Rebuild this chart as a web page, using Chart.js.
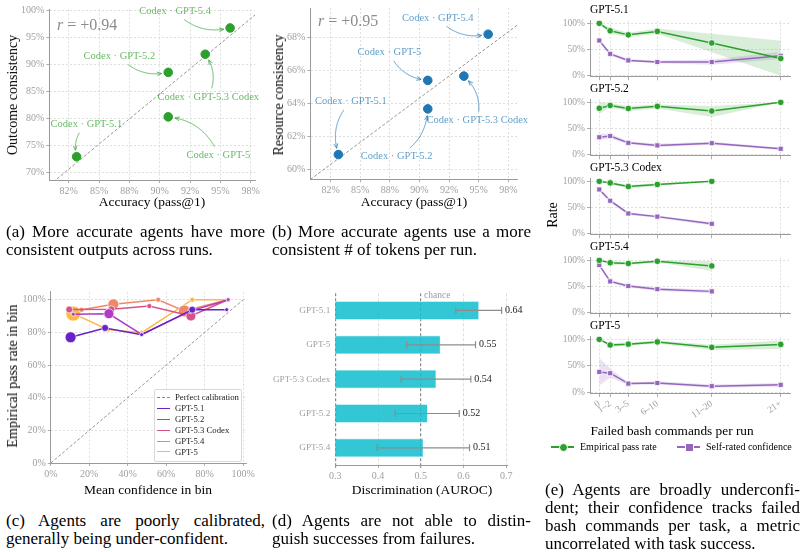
<!DOCTYPE html>
<html>
<head>
<meta charset="utf-8">
<title>Agent consistency and calibration</title>
<script src="https://cdn.jsdelivr.net/npm/chart.js@4.4.1/dist/chart.umd.min.js"></script>
<style>
  html, body { margin: 0; padding: 0; background: #fff; }
  body { position: relative; width: 807px; height: 552px; overflow: hidden; font-family: "Liberation Serif", "DejaVu Serif", serif; color: #000; }
  canvas { position: absolute; }
  .txt { position: absolute; white-space: nowrap; line-height: 1; }
  .ytitle { transform: translate(-50%, -50%) rotate(-90deg); font-size: 14px; }
  .xtitle { transform: translate(-50%, -50%); font-size: 13.5px; }
  .rval { font-size: 16px; color: #8c8c8c; }
  .cap { position: absolute; font-size: 17px; line-height: 18px; height: 18px; white-space: nowrap; }
  .cap.j { white-space: normal; text-align: justify; text-align-last: justify; overflow: hidden; }
  .legbox { position: absolute; border: 1px solid #d8d8d8; background: rgba(255,255,255,0.9); border-radius: 2px; }
  .legrow { position: absolute; font-size: 8.7px; color: #222; white-space: nowrap; line-height: 1; }
  .seg { position: absolute; }
</style>
</head>
<body>
<script>
const SERIF = '"Liberation Serif", "DejaVu Serif", serif';

// (a), (b) consistency vs accuracy
const AGENTS = ['Codex · GPT-5.1', 'Codex · GPT-5.2', 'Codex · GPT-5.3 Codex', 'Codex · GPT-5.4', 'Codex · GPT-5'];
const ACCURACY = [83.15, 90.7, 93.75, 95.8, 90.7];
const OUTCOME_CONSISTENCY = [72.95, 88.5, 91.85, 96.7, 80.3];
const RESOURCE_CONSISTENCY = [60.9, 63.67, 65.66, 68.2, 65.4];
const ACC_TICKS = [82.5, 85, 87.5, 90, 92.5, 95, 97.5];
const ACC_TICK_LABELS = ['82%', '85%', '88%', '90%', '92%', '95%', '98%'];
const OUTCOME_TICKS = [70, 75, 80, 85, 90, 95, 100];
const RESOURCE_TICKS = [60, 62, 64, 66, 68];

// (c) calibration curves
const CAL_MODELS = ['GPT-5.1', 'GPT-5.2', 'GPT-5.3 Codex', 'GPT-5.4', 'GPT-5'];
const CAL_CONF = [
  [10.3, 28.2, 47.2, 73.5, 91.4],
  [11.7, 30.2, 47.2, 72.5, 92.2],
  [9.6, 31.5, 51.2, 72.8, 92.0],
  [16.0, 32.5, 55.8, 69.4, 92.0],
  [11.7, 29.6, 47.2, 73.5, 92.2]
];
const CAL_PASS = [
  [77.0, 82.7, 78.6, 93.9, 93.9],
  [91.1, 91.4, 78.8, 93.0, 100],
  [94.0, 94.1, 96.1, 90.0, 100],
  [93.8, 97.2, 100, 93.1, 100],
  [91.5, 81.8, 79.8, 100, 100]
];
const CAL_BIN_N = [
  [47, 19, 6, 19, 6],
  [6, 39, 6, 10, 6],
  [19, 19, 10, 39, 6],
  [10, 47, 10, 56, 10],
  [88, 10, 10, 10, 6]
];
const PCT_TICKS = [0, 20, 40, 60, 80, 100];
const PERFECT = [0, 100];

// (d) discrimination
const AUROC_MODELS = ['GPT-5.1', 'GPT-5', 'GPT-5.3 Codex', 'GPT-5.2', 'GPT-5.4'];
const AUROC = [0.636, 0.546, 0.536, 0.516, 0.506];
const AUROC_LO = [0.582, 0.467, 0.454, 0.440, 0.398];
const AUROC_HI = [0.689, 0.628, 0.617, 0.590, 0.614];
const AUROC_TICKS = [0.3, 0.4, 0.5, 0.6, 0.7];
const CHANCE = 0.5;

// (e) rates vs failed bash commands
const FAIL_BINS = ['0', '1–2', '3–5', '6–10', '11–20', '21+'];
const FAIL_BIN_POS = [0, 1.5, 4, 8, 15.5, 25];
const E_MODELS = ['GPT-5.1', 'GPT-5.2', 'GPT-5.3 Codex', 'GPT-5.4', 'GPT-5'];
const PASS_RATE = [
  [100, 85.7, 78.0, 84.6, 62.5, 33.0],
  [88.7, 94.0, 88.2, 92.3, 83.4, 100],
  [100, 97.0, 90.0, 94.0, 100, null],
  [100, 95.3, 94.0, 98.2, 89.3, null],
  [100, 89.3, 91.0, 95.2, 85.0, 90.5]
];
const PASS_LO = [
  [100, 80, 74, 80, 45, 0],
  [78, 90, 83, 88, 72, 100],
  [100, 94, 87, 91, 100, null],
  [100, 92, 91, 96, 80, null],
  [100, 86, 88, 92, 80, 82]
];
const PASS_HI = [
  [100, 92, 82, 90, 80, 67],
  [100, 98, 93, 96, 93, 100],
  [100, 99, 93, 97, 100, null],
  [100, 98, 97, 100, 98, null],
  [100, 93, 94, 98, 90, 98]
];
const CONFIDENCE = [
  [67.3, 41.8, 29.3, 26.2, 26.2, 38.2],
  [33.4, 35.7, 22.7, 17.9, 22.1, 11.4],
  [84.5, 63.0, 38.7, 32.7, 19.0, null],
  [91.0, 59.8, 50.9, 45.0, 40.8, null],
  [38.7, 36.3, 16.7, 17.9, 11.9, 14.3]
];
const CONF_LO = [
  [65, 38, 27, 24, 21, 32],
  [28, 31, 20, 15, 19, 9],
  [82, 60, 36, 30, 16, null],
  [88, 57, 48, 42, 37, null],
  [13, 28, 14, 15, 9, 11]
];
const CONF_HI = [
  [70, 45, 32, 29, 31, 46],
  [40, 40, 26, 21, 25, 14],
  [87, 66, 41, 35, 22, null],
  [94, 63, 54, 48, 44, null],
  [65, 45, 19, 21, 15, 18]
];

// ---------- helpers ----------
const GREEN = '#2ca02c', BLUE = '#1f77b4', PURPLE = '#9467bd';
const CAL_COLORS = ['#6a22c8', '#b03bc6', '#d6528a', '#f08868', '#fdb944'];
const GRID = { color: '#d6d6d6', lineWidth: 0.8, tickLength: 3, tickColor: '#9a9a9a' };
const BORDER = { color: '#9a9a9a', width: 1, dash: [2, 2] };
const tickFont = size => ({ family: SERIF, size });

function addCanvas(box) {
  const c = document.createElement('canvas');
  c.width = box.width; c.height = box.height;
  c.style.left = box.left + 'px'; c.style.top = box.top + 'px';
  document.body.appendChild(c);
  return c;
}

function addText(html, cls, left, top, extra) {
  const d = document.createElement('div');
  d.className = cls;
  d.innerHTML = html;
  d.style.left = left + 'px'; d.style.top = top + 'px';
  if (extra) Object.assign(d.style, extra);
  document.body.appendChild(d);
  return d;
}

// make the plot area land at fixed page coordinates
function fixedLayout(box, area) {
  return {
    padding: { top: area.top - box.top, right: box.left + box.width - area.right, left: 0, bottom: 0 },
    yWidth: area.left - box.left,
    xHeight: box.top + box.height - area.bottom
  };
}

function setTicks(values) {
  return s => { s.ticks = values.map(value => ({ value })); };
}

function fitLine(xs, ys, x0, x1) {
  const n = xs.length;
  const mx = xs.reduce((a, b) => a + b, 0) / n;
  const my = ys.reduce((a, b) => a + b, 0) / n;
  let sxy = 0, sxx = 0;
  xs.forEach((x, i) => { sxy += (x - mx) * (ys[i] - my); sxx += (x - mx) * (x - mx); });
  const b = sxy / sxx;
  return [{ x: x0, y: my + b * (x0 - mx) }, { x: x1, y: my + b * (x1 - mx) }];
}

const baseOptions = lay => ({
  responsive: false,
  animation: false,
  events: [],
  layout: { padding: lay.padding },
  plugins: { legend: { display: false }, tooltip: { enabled: false } }
});

// curved annotation arrows (matplotlib arc3-like)
const arrowLabels = {
  id: 'arrowLabels',
  afterDatasetsDraw(chart, args, opts) {
    const { ctx, scales: { x, y } } = chart;
    const pts = chart.data.datasets[0].data;
    ctx.save();
    ctx.font = `${opts.size}px ${SERIF}`;
    ctx.textAlign = 'center';
    ctx.textBaseline = 'middle';
    ctx.fillStyle = opts.color;
    ctx.strokeStyle = opts.color;
    ctx.lineWidth = 1;
    opts.labels.forEach((text, i) => {
      const lx = x.getPixelForValue(opts.at[i][0]), ly = y.getPixelForValue(opts.at[i][1]);
      const px = x.getPixelForValue(pts[i].x), py = y.getPixelForValue(pts[i].y);
      ctx.fillText(text, lx, ly);
      const hw = ctx.measureText(text).width / 2 + 3, hh = opts.size / 2 + 3;
      const cx = (lx + px) / 2 - 0.3 * (py - ly), cy = (ly + py) / 2 + 0.3 * (px - lx);
      const path = [];
      for (let k = 0; k <= 200; k++) {
        const t = k / 200;
        const qx = (1 - t) * (1 - t) * lx + 2 * (1 - t) * t * cx + t * t * px;
        const qy = (1 - t) * (1 - t) * ly + 2 * (1 - t) * t * cy + t * t * py;
        if (Math.abs(qx - lx) < hw && Math.abs(qy - ly) < hh) continue;
        if (Math.hypot(qx - px, qy - py) < 6.5) break;
        path.push([qx, qy]);
      }
      if (path.length < 2) return;
      ctx.beginPath();
      path.forEach(([qx, qy], k) => (k ? ctx.lineTo(qx, qy) : ctx.moveTo(qx, qy)));
      ctx.stroke();
      const [ex, ey] = path[path.length - 1], [bx, by] = path[path.length - 4] || path[0];
      const ang = Math.atan2(ey - by, ex - bx);
      ctx.beginPath();
      ctx.moveTo(ex - 5 * Math.cos(ang - 0.4), ey - 5 * Math.sin(ang - 0.4));
      ctx.lineTo(ex, ey);
      ctx.lineTo(ex - 5 * Math.cos(ang + 0.4), ey - 5 * Math.sin(ang + 0.4));
      ctx.stroke();
    });
    ctx.restore();
  }
};

function consistencyChart(box, area, xRange, yRange, yVals, yTicks, color, textColor, labelAt) {
  const lay = fixedLayout(box, area);
  const opts = baseOptions(lay);
  opts.plugins.arrowLabels = { labels: AGENTS, at: labelAt, color: textColor, size: 10.5 };
  opts.scales = {
    x: {
      type: 'linear', min: xRange[0], max: xRange[1],
      afterFit: s => { s.height = lay.xHeight; },
      afterBuildTicks: setTicks(ACC_TICKS),
      ticks: { callback: (v, i) => ACC_TICK_LABELS[i], color: '#a0a0a0', font: tickFont(10), maxRotation: 0, autoSkip: false, padding: 2 },
      grid: GRID, border: BORDER
    },
    y: {
      type: 'linear', min: yRange[0], max: yRange[1],
      afterFit: s => { s.width = lay.yWidth; },
      afterBuildTicks: setTicks(yTicks),
      ticks: { callback: v => v + '%', color: '#a0a0a0', font: tickFont(10), autoSkip: false, padding: 2 },
      grid: GRID, border: BORDER
    }
  };
  return new Chart(addCanvas(box), {
    type: 'scatter',
    data: {
      datasets: [
        { data: ACCURACY.map((x, i) => ({ x, y: yVals[i] })), backgroundColor: color, borderColor: color, pointRadius: 4.3, order: 0 },
        { data: fitLine(ACCURACY, yVals, xRange[0], xRange[1]), showLine: true, borderColor: '#8a8a8a', borderWidth: 0.9, borderDash: [3, 2], pointRadius: 0, order: 1 }
      ]
    },
    options: opts,
    plugins: [arrowLabels]
  });
}

// ---------- (a) ----------
consistencyChart(
  { left: 0, top: 0, width: 265, height: 215 },
  { left: 49.3, right: 255, top: 9.5, bottom: 180 },
  [80.9, 97.85], [68.65, 100.1],
  OUTCOME_CONSISTENCY, OUTCOME_TICKS, GREEN, 'rgba(44,160,44,0.72)',
  [[83.95, 78.9], [86.67, 91.5], [94.0, 84.0], [91.27, 99.8], [94.83, 73.27]]
);
addText('Outcome consistency', 'txt ytitle', 13, 95);
addText('Accuracy (pass@1)', 'txt xtitle', 152, 202);
addText('<i>r</i> = +0.94', 'txt rval', 57, 17);

// ---------- (b) ----------
consistencyChart(
  { left: 265, top: 0, width: 270, height: 215 },
  { left: 310.3, right: 517.3, top: 5, bottom: 179.3 },
  [80.78, 98.26], [59.4, 69.79],
  RESOURCE_CONSISTENCY, RESOURCE_TICKS, BLUE, 'rgba(31,119,180,0.72)',
  [[84.21, 64.13], [88.07, 60.79], [94.88, 62.98], [91.54, 69.19], [87.45, 67.1]]
);
addText('Resource consistency', 'txt ytitle', 279, 95);
addText('Accuracy (pass@1)', 'txt xtitle', 414, 202);
addText('<i>r</i> = +0.95', 'txt rval', 318, 13);

// ---------- (c) ----------
(function () {
  const box = { left: 0, top: 280, width: 265, height: 205 };
  const area = { left: 50.8, right: 246.7, top: 291.7, bottom: 463 };
  const lay = fixedLayout(box, area);
  const opts = baseOptions(lay);
  const pctAxis = (min, max, fit) => ({
    type: 'linear', min, max, afterFit: fit,
    afterBuildTicks: setTicks(PCT_TICKS),
    ticks: { callback: v => v + '%', color: '#a0a0a0', font: tickFont(10), maxRotation: 0, autoSkip: false, padding: 2 },
    grid: GRID, border: BORDER
  });
  opts.scales = {
    x: pctAxis(0, 101.8, s => { s.height = lay.xHeight; }),
    y: pctAxis(0, 104.9, s => { s.width = lay.yWidth; })
  };
  const datasets = CAL_MODELS.map((name, m) => ({
    label: name,
    data: CAL_CONF[m].map((x, i) => ({ x, y: CAL_PASS[m][i] })),
    borderColor: CAL_COLORS[m], backgroundColor: CAL_COLORS[m],
    borderWidth: 1.5,
    pointRadius: CAL_BIN_N[m].map(n => Math.sqrt(n) * 0.8),
    pointBorderColor: '#fff', pointBorderWidth: 0.7
  }));
  datasets.push({
    label: 'Perfect calibration',
    data: PERFECT.map(v => ({ x: v, y: v })),
    borderColor: '#8a8a8a', borderWidth: 0.9, borderDash: [3, 2], pointRadius: 0
  });
  new Chart(addCanvas(box), { type: 'line', data: { datasets }, options: opts });

  // legend
  const lg = { left: 154, top: 389, width: 86, height: 71 };
  addText('', 'legbox', lg.left, lg.top, { width: lg.width + 'px', height: lg.height + 'px' });
  const rows = ['Perfect calibration'].concat(CAL_MODELS);
  rows.forEach((name, r) => {
    const cy = 397.7 + r * 10.9;
    const seg = document.createElement('div');
    seg.className = 'seg';
    Object.assign(seg.style, { left: '157px', top: (cy - 0.75) + 'px', width: '12.5px', height: '0' });
    seg.style.borderTop = r === 0 ? '1px dashed #8a8a8a' : '1.6px solid ' + CAL_COLORS[r - 1];
    document.body.appendChild(seg);
    addText(name, 'legrow', 175, cy - 4.6);
  });
})();
addText('Empirical pass rate in bin', 'txt ytitle', 13, 376);
addText('Mean confidence in bin', 'txt xtitle', 148, 490);

// ---------- (d) ----------
(function () {
  const box = { left: 265, top: 280, width: 270, height: 205 };
  const area = { left: 335.3, right: 508, top: 293.3, bottom: 465 };
  const lay = fixedLayout(box, area);
  const opts = baseOptions(lay);
  opts.indexAxis = 'y';
  opts.plugins.errorBars = { lo: AUROC_LO, hi: AUROC_HI, text: AUROC.map(v => v.toFixed(2)) };
  opts.scales = {
    x: {
      type: 'linear', min: 0.3, max: 0.704,
      afterFit: s => { s.height = lay.xHeight; },
      afterBuildTicks: setTicks(AUROC_TICKS),
      ticks: { callback: v => v.toFixed(1), color: '#a0a0a0', font: tickFont(10), maxRotation: 0, autoSkip: false, padding: 2 },
      grid: {
        color: c => (c.tick && (c.tick.value === CHANCE || c.tick.value === AUROC_TICKS[0]) ? '#8a8a8a' : '#d6d6d6'),
        lineWidth: c => (c.tick && (c.tick.value === CHANCE || c.tick.value === AUROC_TICKS[0]) ? 1.2 : 0.8),
        tickLength: 3, tickColor: '#9a9a9a'
      },
      border: { color: '#9a9a9a', width: 1, dash: [3, 2] }
    },
    y: {
      afterFit: s => { s.width = lay.yWidth; },
      ticks: { color: '#a0a0a0', font: tickFont(9.2), padding: 5 },
      grid: { display: false, drawTicks: false },
      border: { display: false }
    }
  };
  const errorBars = {
    id: 'errorBars',
    afterDatasetsDraw(chart, args, o) {
      const { ctx, scales: { x } } = chart;
      ctx.save();
      ctx.strokeStyle = '#8d8d8d';
      ctx.lineWidth = 1.2;
      ctx.font = `10px ${SERIF}`;
      ctx.fillStyle = '#222';
      ctx.textBaseline = 'middle';
      chart.getDatasetMeta(0).data.forEach((bar, i) => {
        const yy = bar.y, x0 = x.getPixelForValue(o.lo[i]), x1 = x.getPixelForValue(o.hi[i]);
        ctx.beginPath();
        ctx.moveTo(x0, yy); ctx.lineTo(x1, yy);
        ctx.moveTo(x0, yy - 3.5); ctx.lineTo(x0, yy + 3.5);
        ctx.moveTo(x1, yy - 3.5); ctx.lineTo(x1, yy + 3.5);
        ctx.stroke();
        ctx.fillText(o.text[i], x1 + 3.5, yy);
      });
      ctx.restore();
    }
  };
  new Chart(addCanvas(box), {
    type: 'bar',
    data: { labels: AUROC_MODELS, datasets: [{ data: AUROC, backgroundColor: 'rgba(23,190,207,0.88)', borderColor: 'rgba(180,240,245,0.9)', borderWidth: 0.6, categoryPercentage: 1, barPercentage: 0.54 }] },
    options: opts,
    plugins: [errorBars]
  });
})();
addText('chance', 'txt', 424, 291, { fontSize: '9.5px', color: '#9a9a9a' });
addText('Discrimination (AUROC)', 'txt xtitle', 422, 490);

// ---------- (e) ----------
E_MODELS.forEach((name, m) => {
  const top = 17.9 + m * 79;
  const area = { left: 590, right: 790, top, bottom: top + 59.4 };
  const last = m === E_MODELS.length - 1;
  const box = { left: 540, top: top - 5, width: 267, height: 59.4 + 5 + (last ? 34 : 7) };
  const lay = fixedLayout(box, area);
  const opts = baseOptions(lay);
  opts.scales = {
    x: {
      type: 'linear', min: -1.28, max: 26.28,
      afterFit: s => { s.height = lay.xHeight; },
      afterBuildTicks: setTicks(FAIL_BIN_POS),
      ticks: { display: last, callback: (v, i) => FAIL_BINS[i], color: '#a0a0a0', font: tickFont(9.5), minRotation: 35, maxRotation: 35, autoSkip: false, padding: 1 },
      grid: { color: '#d6d6d6', lineWidth: 0.8, tickLength: 4, tickColor: '#9a9a9a' },
      border: BORDER
    },
    y: {
      type: 'linear', min: -1, max: 105,
      afterFit: s => { s.width = lay.yWidth; },
      afterBuildTicks: setTicks([0, 50, 100]),
      ticks: { callback: v => v + '%', color: '#a0a0a0', font: tickFont(9.5), autoSkip: false, padding: 2 },
      grid: GRID, border: BORDER
    }
  };
  const pts = arr => FAIL_BIN_POS.map((x, i) => ({ x, y: arr[m][i] }));
  const band = (arr, fill, bg) => ({ data: pts(arr), fill, backgroundColor: bg, borderWidth: 0, pointRadius: 0, order: 2 });
  const datasets = [
    band(PASS_LO, false, 'rgba(0,0,0,0)'),
    band(PASS_HI, '-1', 'rgba(44,160,44,0.18)'),
    band(CONF_LO, false, 'rgba(0,0,0,0)'),
    band(CONF_HI, '-1', 'rgba(148,103,189,0.2)'),
    { data: pts(PASS_RATE), borderColor: GREEN, backgroundColor: GREEN, borderWidth: 1.5, pointRadius: 3.3, pointBorderColor: '#fff', pointBorderWidth: 0.8, order: 0 },
    { data: pts(CONFIDENCE), borderColor: PURPLE, backgroundColor: PURPLE, borderWidth: 1.5, pointStyle: 'rect', pointRadius: 3.6, pointBorderColor: '#fff', pointBorderWidth: 0.8, order: 1 }
  ];
  new Chart(addCanvas(box), { type: 'line', data: { datasets }, options: opts });
  addText(name, 'txt', 590, top - 14, { fontSize: '11.5px' });
});
addText('Rate', 'txt ytitle', 553, 215);
addText('Failed bash commands per run', 'txt xtitle', 672, 431, { fontSize: '13.3px' });

// legend (e)
(function () {
  const items = [
    { text: 'Empirical pass rate', color: GREEN, x: 551, round: true },
    { text: 'Self-rated confidence', color: PURPLE, x: 677, round: false }
  ];
  items.forEach(it => {
    const seg = document.createElement('div');
    seg.className = 'seg';
    Object.assign(seg.style, { left: it.x + 'px', top: '446.2px', width: '23px', height: '1.6px', background: it.color });
    document.body.appendChild(seg);
    const mk = document.createElement('div');
    mk.className = 'seg';
    Object.assign(mk.style, { left: (it.x + 7.5) + 'px', top: '443px', width: '7px', height: '7px', background: it.color, border: '1px solid #fff', borderRadius: it.round ? '50%' : '0' });
    document.body.appendChild(mk);
    addText(it.text, 'txt', it.x + 29, 442, { fontSize: '10px' });
  });
})();

// ---------- captions ----------
const CAPTIONS = [
  { left: 6, width: 259, top: 223, lines: ['(a) More accurate agents have more', 'consistent outputs across runs.'] },
  { left: 272, width: 259, top: 223, lines: ['(b) More accurate agents use a more', 'consistent # of tokens per run.'] },
  { left: 6, width: 259, top: 512, lines: ['(c) Agents are poorly calibrated,', 'generally being under-confident.'] },
  { left: 272, width: 259, top: 512, lines: ['(d) Agents are not able to distin-', 'guish successes from failures.'] },
  { left: 545, width: 255, top: 481, lines: ['(e) Agents are broadly underconfi-', 'dent; their confidence tracks failed', 'bash commands per task, a metric', 'uncorrelated with task success.'] }
];
CAPTIONS.forEach(c => {
  c.lines.forEach((line, i) => {
    const lastLine = i === c.lines.length - 1;
    addText(line, lastLine ? 'cap' : 'cap j', c.left, c.top + i * 18, { width: c.width + 'px' });
  });
});
</script>
</body>
</html>
